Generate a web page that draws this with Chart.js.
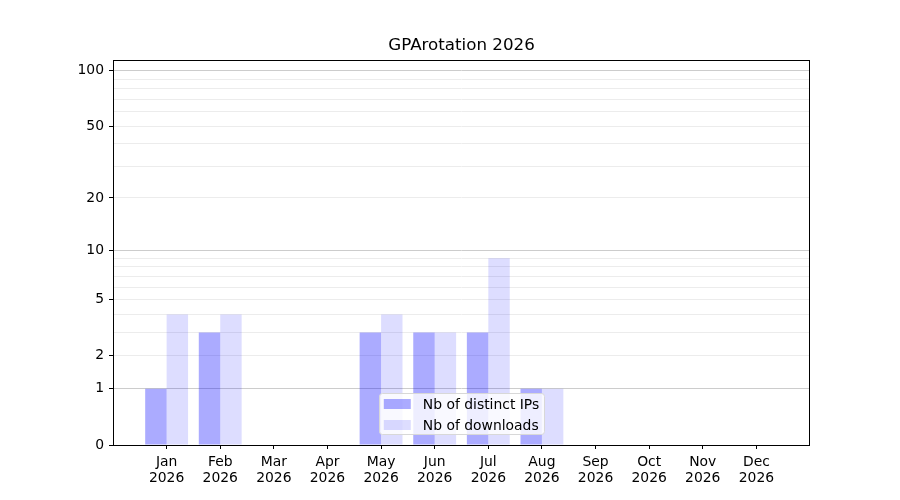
<!DOCTYPE html>
<html>
<head>
<meta charset="utf-8">
<script src="https://cdn.jsdelivr.net/npm/chart.js@4.4.1/dist/chart.umd.min.js"></script>
<style>
  html, body { margin: 0; padding: 0; background: #fff; }
  #wrap { width: 900px; height: 500px; }
</style>
</head>
<body>
<div id="wrap"><canvas id="chart"></canvas></div>
<script>
const title = 'GPArotation 2026';
const months = ['Jan', 'Feb', 'Mar', 'Apr', 'May', 'Jun', 'Jul', 'Aug', 'Sep', 'Oct', 'Nov', 'Dec'];
const year = '2026';
const distinctIps = [1, 3, 0, 0, 3, 3, 3, 1, 0, 0, 0, 0];
const downloads = [4, 4, 0, 0, 4, 3, 9, 1, 0, 0, 0, 0];

const yTicks = [0, 1, 2, 3, 4, 5, 6, 7, 8, 9, 10, 20, 30, 40, 50, 60, 70, 80, 90, 100];
const yLabeled = [0, 1, 2, 5, 10, 20, 50, 100];
const yMajor = [1, 10, 100];
const yMax = 114;

// y axis: log10(1 + v)
const f = v => Math.log10(1 + v);

class Log1pScale extends Chart.LinearScale {
  buildTicks() {
    return yTicks.map(v => ({ value: v }));
  }
  getPixelForValue(value) {
    return this.getPixelForDecimal((f(value) - f(this.min)) / (f(this.max) - f(this.min)));
  }
  getValueForPixel(pixel) {
    const d = this.getDecimalForPixel(pixel);
    return Math.pow(10, f(this.min) + d * (f(this.max) - f(this.min))) - 1;
  }
}
Log1pScale.id = 'log1p';
Log1pScale.defaults = {};
Chart.register(Log1pScale);

Chart.defaults.font.family = '"DejaVu Sans", sans-serif';
Chart.defaults.font.size = 13.9;
Chart.defaults.color = '#000';

// plot frame + legend box inside the plot (lower center)
const framePlugin = {
  id: 'frame',
  afterDatasetsDraw(chart) {
    const { ctx, chartArea: a } = chart;
    const items = chart.data.datasets.map(d => ({ label: d.label, color: d.backgroundColor }));
    ctx.save();
    ctx.font = '13.9px "DejaVu Sans"';
    const textW = Math.max(...items.map(i => ctx.measureText(i.label).width));
    const padX = 5, sw = 27, gap = 12, rowH = 21;
    const w = padX + sw + gap + textW + padX;
    const h = 41;
    const x = (a.left + a.right) / 2 - w / 2;
    const y = a.bottom - 11 - h;
    ctx.beginPath();
    ctx.roundRect(Math.round(x) + 0.5, Math.round(y) + 0.5, Math.round(w), h, 3);
    ctx.fillStyle = 'rgba(255,255,255,0.8)';
    ctx.fill();
    ctx.strokeStyle = '#d8d8d8';
    ctx.lineWidth = 1;
    ctx.stroke();
    ctx.textBaseline = 'middle';
    items.forEach((it, i) => {
      const cy = y + 11 + i * rowH;
      ctx.fillStyle = it.color;
      ctx.fillRect(x + padX, cy - 5, sw, 10);
      ctx.fillStyle = '#000';
      ctx.fillText(it.label, x + padX + sw + gap, cy + 1);
    });
    ctx.restore();
  },
  afterDraw(chart) {
    const { ctx, chartArea: a } = chart;
    ctx.save();
    ctx.strokeStyle = '#000';
    ctx.lineWidth = 1;
    ctx.strokeRect(Math.round(a.left) + 0.5, Math.round(a.top) + 0.5,
      Math.round(a.right - a.left) - 1, Math.round(a.bottom - a.top));
    ctx.restore();
  }
};

new Chart(document.getElementById('chart'), {
  type: 'bar',
  data: {
    datasets: [
      {
        label: 'Nb of distinct IPs',
        data: distinctIps.map((v, i) => ({ x: i, y: v })),
        backgroundColor: 'rgba(0, 0, 255, 0.33)',
        borderWidth: 0,
        categoryPercentage: 0.8,
        barPercentage: 1.0,
      },
      {
        label: 'Nb of downloads',
        data: downloads.map((v, i) => ({ x: i, y: v })),
        backgroundColor: 'rgba(0, 0, 255, 0.135)',
        borderWidth: 0,
        categoryPercentage: 0.8,
        barPercentage: 1.0,
      },
    ],
  },
  options: {
    responsive: true,
    maintainAspectRatio: false,
    animation: false,
    layout: { padding: { left: 0, right: 90, top: 0, bottom: 0 } },
    scales: {
      x: {
        type: 'linear',
        min: -1,
        max: 12,
        offset: false,
        afterBuildTicks: scale => {
          scale.ticks = months.map((m, i) => ({ value: i }));
        },
        afterFit: scale => { scale.height = 55; },
        ticks: {
          autoSkip: false,
          maxRotation: 0,
          padding: 5,
          font: { lineHeight: 1.17 },
          callback: v => [months[v], year],
        },
        grid: { offset: false, drawOnChartArea: false, tickLength: 4, tickColor: '#000', lineWidth: 1 },
        border: { display: false },
      },
      y: {
        type: 'log1p',
        min: 0,
        max: yMax,
        afterFit: scale => { scale.width = 113; },
        ticks: {
          autoSkip: false,
          padding: 5,
          callback: v => (yLabeled.includes(v) ? String(v) : ''),
        },
        grid: {
          tickLength: 4,
          lineWidth: 1,
          color: c => {
            const v = c.tick && c.tick.value;
            if (v === 0) return 'rgba(0,0,0,0)';
            return yMajor.includes(v) ? '#cccccc' : '#ececec';
          },
          tickColor: c => (c.tick && yLabeled.includes(c.tick.value) ? '#000' : 'rgba(0,0,0,0)'),
        },
        border: { display: false },
      },
    },
    plugins: {
      legend: { display: false },
      tooltip: { enabled: false },
      title: {
        display: true,
        fullSize: false,
        text: title,
        color: '#000',
        font: { size: 16.7, weight: 'normal' },
        padding: { top: 36, bottom: 4 },
      },
    },
  },
  plugins: [framePlugin],
});
</script>
</body>
</html>
